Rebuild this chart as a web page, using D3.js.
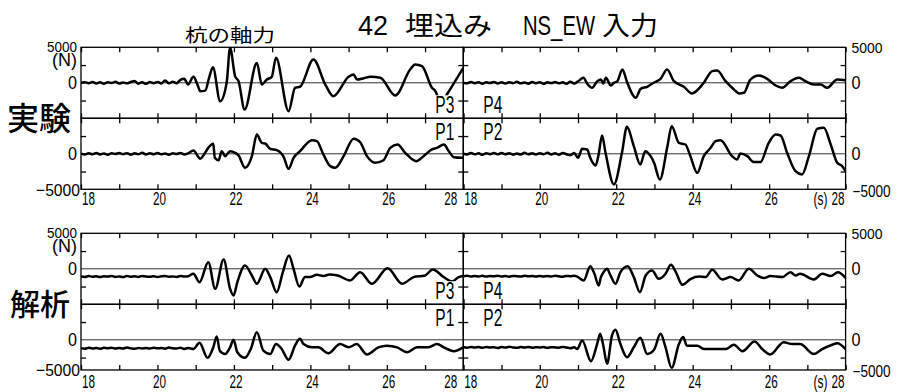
<!DOCTYPE html>
<html>
<head>
<meta charset="utf-8">
<script src="https://cdn.jsdelivr.net/npm/d3@7"></script>
<style>
  html, body { margin: 0; padding: 0; background: #fff; }
  svg { display: block; }
</style>
</head>
<body>
<svg id="chart" width="897" height="392"></svg>
<script>
// ---------------- data ----------------
const timeDomain = [18, 28];
const forceDomain = [-5000, 5000];
const timeTicks = [18, 19, 20, 21, 22, 23, 24, 25, 26, 27, 28];
const timeLabels = [18, 20, 22, 24, 26, 28];
const forceMinorTicks = [-2500, 2500];
const groupNames = ["実験", "解析"];
const pileRows = [["P3", "P4"], ["P1", "P2"]];
const quietStart = 18;
const quietStep = 0.1;

// 実験 (measured) — quiet part sampled every 0.1 s, then wave keypoints [t, N]
const expP3Quiet = [0, 90, -60, 120, -90, 60, -130, 80, -40, 150, -100, 50, -80, 110, 240, -120, 70, -140, 100, -60, 130, -90, 330, -80, 160, -50, 420, 580, -240];
const expP3Wave = [[20.94, 845], [21.05, -300], [21.12, -1180], [21.25, -1100], [21.35, 700], [21.45, 2200], [21.64, -2600], [21.81, 0], [21.9, 4930], [22.03, 930], [22.12, 230], [22.28, -3760], [22.6, 2800], [22.73, -240], [22.86, 460], [22.99, 845], [23.1, 3520], [23.43, -4000], [23.6, -700], [23.73, -560], [24.08, 3280], [24.39, -240], [24.6, -1890], [25.0, 845], [25.13, 1170], [25.22, 460], [25.4, 650], [25.57, 845], [25.83, 700], [26.22, -1790], [26.61, 1870], [26.74, 2580], [26.92, 2340], [27.18, -700], [27.27, -1180], [27.42, -2900], [27.57, -1650], [28.0, 2110]];

const expP4Quiet = [0, -80, 110, -60, 90, -130, 70, -40, 120, -90, 60, -110, 80, -50, 140, -70, 30, -120, 100, -60, 90, -150, 70, -40, 110, -80, 60, -130, 150, -90, 200];
const expP4Wave = [[21.14, 700], [21.25, -200], [21.37, -700], [21.5, 200], [21.6, 460], [21.66, -100], [21.73, 700], [21.86, -380], [21.94, 0], [22.03, 230], [22.16, 1870], [22.29, 0], [22.51, -2110], [22.64, -850], [22.81, -560], [22.98, 0], [23.16, 560], [23.33, 1870], [23.51, 230], [23.77, -560], [23.98, -1500], [24.29, 0], [24.51, 1640], [24.64, 1730], [24.86, 230], [25.08, -940], [25.21, -1500], [25.34, -1400], [25.51, 460], [25.73, 1030], [25.95, 560], [26.17, -380], [26.34, -700], [26.56, 230], [26.78, 700], [26.95, 230], [27.17, -240], [27.35, -240], [27.52, -700], [27.78, 460], [28.0, 370]];

const expP1Quiet = [0, -110, 70, -60, 130, -90, 50, -140, 80, -30, 120, -70, 90, -120, 60, -50, 140, -100, 70, -60, 110, -80, 50, -130, 90, -40, 120, -90, 60];
const expP1Wave = [[20.94, 460], [21.12, -700], [21.2, -230], [21.33, 840], [21.46, 1400], [21.5, -550], [21.6, -900], [21.68, 375], [21.77, -330], [21.9, 375], [22.03, 140], [22.12, -230], [22.29, -1970], [22.47, -330], [22.6, 2720], [22.73, 1550], [22.82, 1450], [22.95, 700], [23.12, 520], [23.3, -420], [23.43, -2110], [23.56, -560], [23.73, 370], [24.04, 1920], [24.17, 1780], [24.34, -90], [24.52, -1740], [24.65, -1970], [24.87, -330], [25.13, 2110], [25.3, 1640], [25.48, -330], [25.7, -1270], [25.91, -900], [26.09, 840], [26.28, 1310], [26.48, 140], [26.77, -1040], [26.96, -330], [27.18, 610], [27.31, 840], [27.49, 1310], [27.62, 375], [27.75, -470], [28.0, -560]];

const expP2Quiet = [0, -90, 120, -70, 60, -140, 90, -50, 110, -80, 130, -60, 70, -120, 40, -90, 150, -70, 80, -110, 60, -50, 140, -90, 70, -130, 100, -60, -200, 120];
const expP2Wave = [[21.0, -560], [21.11, 700], [21.24, 610], [21.32, -560], [21.46, -1640], [21.54, -90], [21.63, 2580], [21.72, 140], [21.94, -4320], [22.15, 140], [22.28, 3800], [22.46, 1080], [22.63, -1500], [22.76, 375], [22.9, -330], [22.99, -1270], [23.14, -3620], [23.34, 1080], [23.45, 3890], [23.64, 1550], [23.81, 1310], [23.94, -330], [24.12, -2680], [24.29, -330], [24.47, 840], [24.6, 1780], [24.73, 1920], [25.03, -330], [25.16, -800], [25.25, 40], [25.43, -330], [25.6, -1170], [25.77, -1170], [25.99, 1550], [26.17, 2720], [26.3, 2580], [26.47, 140], [26.69, -2450], [26.86, -2910], [27.04, -330], [27.26, 3520], [27.43, 3660], [27.61, 1310], [27.78, -1270], [27.91, -1740], [28.0, -2450]];

// 解析 (analysis)
const anaP3Quiet = [-1080, -1150, -1020, -1120, -1060, -1170, -1040, -1100, -1010, -1140, -1070, -1180, -1030, -1110, -1050, -1160, -1000, -1090, -1130, -1040, -1150, -1060, -1010, -1120, -1070, -1140, -1020, -1100, -1050];
const anaP3Wave = [[20.94, -700], [21.1, -1890], [21.33, 930], [21.51, -2820], [21.73, 1310], [21.9, -2820], [21.99, -3760], [22.09, -1890], [22.29, 460], [22.47, -940], [22.6, -2110], [22.82, 0], [22.95, -1170], [23.12, -3290], [23.28, -470], [23.44, 1870], [23.56, 0], [23.71, -2500], [23.86, -1170], [23.99, -1170], [24.17, -850], [24.34, -1000], [24.5, -820], [24.69, -900], [25.04, -1640], [25.3, -470], [25.61, -2110], [26.02, 90], [26.4, -2110], [26.7, -1170], [27.0, -940], [27.2, -100], [27.49, -1170], [27.71, -1790], [27.88, -1170], [28.0, -1030]];

const anaP4Quiet = [-1040, -980, -1090, -1010, -1070, -990, -1100, -1020, -1060, -970, -1080, -1030, -1110, -1000, -1050, -1090, -990, -1060, -1020, -1100, -1000, -1070, -1030, -1080, -990, -1060, -1110, -1010, -1050, -980];
const anaP4Wave = [[20.98, -1100], [21.15, -1640], [21.32, 370], [21.43, -700], [21.54, -2350], [21.6, -1170], [21.67, -470], [21.76, 0], [21.85, -940], [21.98, -2110], [22.11, -470], [22.3, 370], [22.46, -1170], [22.62, -3290], [22.77, -940], [22.94, -230], [23.11, -1410], [23.29, -700], [23.43, 560], [23.56, -470], [23.73, -2250], [23.95, -1410], [24.17, -1080], [24.34, -1170], [24.51, -140], [24.77, -1500], [24.99, -1170], [25.2, -1640], [25.47, 0], [25.69, -940], [25.86, -1310], [26.03, -1030], [26.34, -1170], [26.56, -470], [26.69, -940], [26.81, -700], [27.17, -1500], [27.39, -700], [27.61, -1030], [27.8, -470], [28.0, -1270]];

const anaP1Quiet = [-1180, -1250, -1120, -1210, -1150, -1270, -1130, -1200, -1110, -1240, -1160, -1220, -1090, -1190, -1260, -1140, -1210, -1170, -1230, -1120, -1200, -1150, -1250, -1100, -1190, -1220, -1130, -1280, -1160];
const anaP1Wave = [[20.94, -1300], [21.1, -420], [21.31, -2540], [21.46, -1060], [21.55, 470], [21.63, -1530], [21.77, -2000], [21.9, -1060], [21.99, 0], [22.09, -1760], [22.29, -2540], [22.44, -1300], [22.6, 1070], [22.77, -1530], [22.95, -2000], [23.1, -600], [23.25, -1300], [23.43, -2820], [23.6, -800], [23.73, 140], [23.82, -600], [24.04, -1060], [24.21, -1060], [24.47, -1900], [24.78, -600], [25.0, -1060], [25.21, -600], [25.48, -2070], [25.78, -1060], [26.0, -830], [26.27, -1060], [26.53, -1760], [26.79, -1060], [27.09, -1060], [27.31, -600], [27.49, -1060], [27.75, -1600], [28.0, -1060]];

const anaP2Quiet = [-1060, -1120, -1000, -1090, -1030, -1130, -1010, -1080, -1040, -1150, -1020, -1100, -990, -1070, -1120, -1030, -1090, -1000, -1110, -1050, -1080, -1020, -1140, -1040, -1070, -1110, -1000, -1090, -1180, -1050];
const anaP2Wave = [[20.98, -1300], [21.11, -90], [21.34, -3010], [21.5, -600], [21.58, 850], [21.67, -1060], [21.76, -3380], [21.89, 610], [21.98, 1410], [22.11, -600], [22.28, -2450], [22.46, -1060], [22.63, 280], [22.81, -2000], [22.99, -1410], [23.16, 850], [23.29, -1060], [23.45, -3940], [23.64, -600], [23.75, 380], [23.85, -830], [24.12, -830], [24.29, -1300], [24.6, -1300], [24.86, -1300], [25.08, -700], [25.3, -1600], [25.62, -240], [25.82, -1300], [26.03, -2070], [26.38, -330], [26.6, -600], [26.81, -600], [27.17, -2000], [27.39, -1300], [27.65, -700], [27.78, -470], [28.0, -1300]];

// ---------------- helpers ----------------
function series(quiet, wave) {
  return quiet.map((v, i) => [quietStart + i * quietStep, v]).concat(wave);
}

const traces = [
  { P3: series(expP3Quiet, expP3Wave), P4: series(expP4Quiet, expP4Wave),
    P1: series(expP1Quiet, expP1Wave), P2: series(expP2Quiet, expP2Wave) },
  { P3: series(anaP3Quiet, anaP3Wave), P4: series(anaP4Quiet, anaP4Wave),
    P1: series(anaP1Quiet, anaP1Wave), P2: series(anaP2Quiet, anaP2Wave) }
];

const numFont = '"Liberation Sans", Arial, sans-serif';
const cjkFont = '"Noto Sans CJK JP","Noto Sans CJK SC",sans-serif';

// layout of the two panel groups
const layout = {
  left: 81, colW: 382.3, panelH: 71,
  groups: [
    { top: 47.3, floor: -5000, labelGap: 16 },
    { top: 233.3, floor: -4250, labelGap: 18 }
  ]
};

const svg = d3.select("#chart");
let clipId = 0;

function addText(parent, x, y, str, opt) {
  const t = parent.append("text")
    .attr("x", x).attr("y", y)
    .attr("font-family", opt.font || numFont)
    .attr("font-size", opt.size)
    .attr("font-weight", opt.weight || 400)
    .attr("text-anchor", opt.anchor || "start")
    .attr("fill", "#000")
    .text(str);
  if (opt.width) t.attr("textLength", opt.width).attr("lengthAdjust", "spacingAndGlyphs");
  return t;
}

const lineGen = (x, y) => d3.line()
  .x(d => x(d[0])).y(d => y(d[1]))
  .curve(d3.curveMonotoneX);

// ---------------- panels ----------------
layout.groups.forEach((g, gi) => {
  const layer = svg.append("g");
  const scales = [];

  pileRows.forEach((row, r) => {
    row.forEach((pile, c) => {
      const x0 = layout.left + c * layout.colW;
      const x = d3.scaleLinear().domain(timeDomain).range([x0, x0 + layout.colW]);
      const top = g.top + r * layout.panelH;
      const y = d3.scaleLinear().domain(forceDomain).range([top + layout.panelH, top]);
      const bottom = r === 1 ? y(g.floor) : top + layout.panelH;
      scales.push({ r, c, x, y, top, bottom });

      const id = "clip" + (clipId++);
      svg.append("clipPath").attr("id", id)
        .append("rect").attr("x", x0).attr("y", top)
        .attr("width", layout.colW).attr("height", bottom - top);

      // zero line
      layer.append("line")
        .attr("x1", x0).attr("x2", x0 + layout.colW)
        .attr("y1", y(0)).attr("y2", y(0))
        .attr("stroke", "#333").attr("stroke-width", 1);

      // trace
      layer.append("path")
        .datum(traces[gi][pile])
        .attr("clip-path", `url(#${id})`)
        .attr("fill", "none").attr("stroke", "#000")
        .attr("stroke-width", 2.5).attr("stroke-linejoin", "round")
        .attr("d", lineGen(x, y));
    });
  });

  // pile labels with white backing
  scales.forEach(s => {
    const pile = pileRows[s.r][s.c];
    const divider = layout.left + layout.colW;
    const base = s.r === 0 ? s.bottom - 5 : s.top + 22;
    const t = addText(layer, s.c === 0 ? divider - 9 : divider + 20, base, pile,
      { size: 24, anchor: s.c === 0 ? "end" : "start", width: 19 });
    const bb = t.node().getBBox();
    layer.insert("rect", () => t.node())
      .attr("x", bb.x - 1).attr("y", bb.y + 4)
      .attr("width", bb.width + 2).attr("height", bb.height - 7)
      .attr("fill", "#fff");
  });

  // frames and ticks
  scales.forEach(s => {
    const [xa, xb] = s.x.range();
    layer.append("rect")
      .attr("x", xa).attr("y", s.top)
      .attr("width", xb - xa).attr("height", s.bottom - s.top)
      .attr("fill", "none").attr("stroke", "#000").attr("stroke-width", 1.3);

    const axes = [
      [`translate(0,${s.top})`, d3.axisBottom(s.x).tickValues(timeTicks)],
      [`translate(0,${s.bottom})`, d3.axisTop(s.x).tickValues(timeTicks)],
      [`translate(${xa},0)`, d3.axisRight(s.y).tickValues(forceMinorTicks)],
      [`translate(${xb},0)`, d3.axisLeft(s.y).tickValues(forceMinorTicks)]
    ];
    axes.forEach(([tr, ax]) => {
      const a = layer.append("g").attr("transform", tr)
        .call(ax.tickSize(5).tickSizeOuter(0).tickFormat(""));
      a.select(".domain").remove();
      a.selectAll("line").attr("stroke", "#000").attr("stroke-width", 1.3);
    });
  });

  // force labels (left and right)
  const up = scales.find(s => s.r === 0 && s.c === 0);
  const lo = scales.find(s => s.r === 1 && s.c === 0);
  const lblL = layout.left - 4;
  const lblR = layout.left + 2 * layout.colW + 6;
  addText(layer, lblL, g.top + 5, String(forceDomain[1]), { size: 15, anchor: "end", width: 30 });
  addText(layer, lblL, g.top + 18.5, "(N)", { size: 18, anchor: "end", width: 25 });
  addText(layer, lblL, up.y(0) + 6.5, "0", { size: 18, anchor: "end", width: 9 });
  addText(layer, lblL, lo.y(0) + 6.5, "0", { size: 18, anchor: "end", width: 9 });
  addText(layer, lblL + 3, lo.bottom + 6.5, "\u2212" + forceDomain[1], { size: 17, anchor: "end", width: 44 });

  addText(layer, lblR, g.top + 5.5, String(forceDomain[1]), { size: 15, width: 31 });
  addText(layer, lblR, up.y(0) + 6.5, "0", { size: 18, width: 9 });
  addText(layer, lblR, lo.y(0) + 6.5, "0", { size: 18, width: 9 });
  addText(layer, lblR + 1, lo.bottom + 7.5, "\u2212" + forceDomain[1], { size: 16, width: 38 });

  // time labels under each column
  [0, 1].forEach(c => {
    const s = scales.find(d => d.r === 1 && d.c === c);
    const base = s.bottom + g.labelGap;
    timeLabels.forEach((t, i) => {
      let xp = s.x(t) + 2, anchor = "middle";
      if (i === 0) { xp = s.x(t) + 1; anchor = "start"; }
      if (i === timeLabels.length - 1) { xp = s.x(t) - (c === 0 ? 6 : 1); anchor = "end"; }
      addText(layer, xp, base, String(t), { size: 18, anchor, width: 13 });
    });
    if (c === 1) addText(layer, s.x(28) - 18, base, "(s)", { size: 18, anchor: "end", width: 14 });
  });

  // group name
  addText(layer, gi === 0 ? 7 : 10, gi === 0 ? 130 : 315, groupNames[gi],
    { font: cjkFont, size: gi === 0 ? 32 : 30, weight: 500 });
});

// ---------------- titles ----------------
addText(svg, 358, 35, "42", { size: 28, width: 30 });
addText(svg, 405, 35, "埋込み", { font: cjkFont, size: 26, width: 87 });
addText(svg, 523, 35, "NS_EW", { size: 28, width: 72 });
addText(svg, 602, 35, "入力", { font: cjkFont, size: 26, width: 56 });
addText(svg, 185, 42, "杭の軸力", { font: cjkFont, size: 18, width: 90 });
</script>
</body>
</html>
